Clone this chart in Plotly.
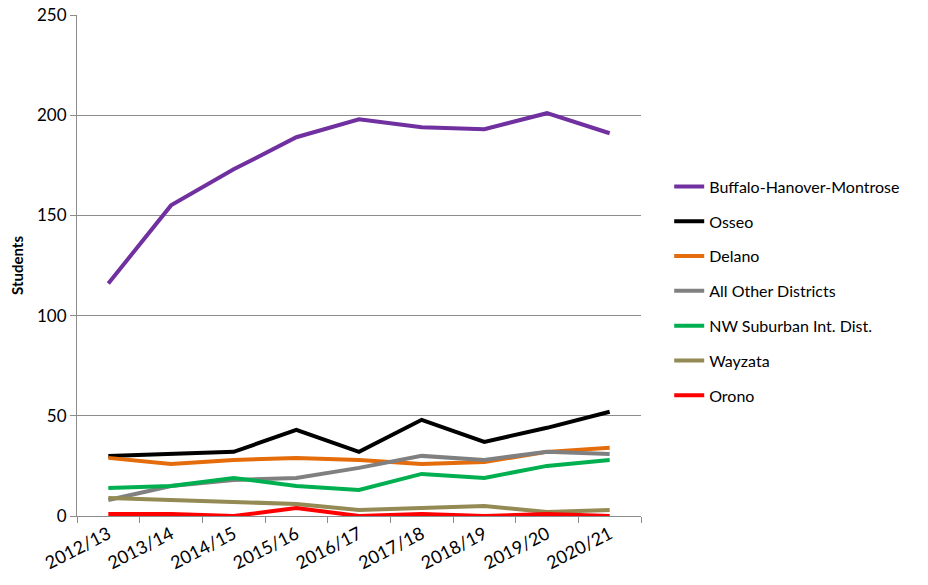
import plotly.graph_objects as go

years = ["2012/13", "2013/14", "2014/15", "2015/16", "2016/17", "2017/18", "2018/19", "2019/20", "2020/21"]

buffalo = [116, 155, 173, 189, 198, 194, 193, 201, 191]
osseo = [30, 31, 32, 43, 32, 48, 37, 44, 52]
delano = [29, 26, 28, 29, 28, 26, 27, 32, 34]
all_other = [8, 15, 18, 19, 24, 30, 28, 32, 31]
nw_suburban = [14, 15, 19, 15, 13, 21, 19, 25, 28]
wayzata = [9, 8, 7, 6, 3, 4, 5, 2, 3]
orono = [1, 1, 0, 4, 0, 1, 0, 1, 0]

series = [
    ("Buffalo-Hanover-Montrose", buffalo, "#7030A0"),
    ("Osseo", osseo, "#000000"),
    ("Delano", delano, "#E46C0A"),
    ("All Other Districts", all_other, "#808080"),
    ("NW Suburban Int. Dist.", nw_suburban, "#00B050"),
    ("Wayzata", wayzata, "#948A54"),
    ("Orono", orono, "#FF0000"),
]

fig = go.Figure()
for name, vals, color in series:
    fig.add_trace(go.Scatter(
        x=years, y=vals, name=name, mode="lines",
        line=dict(color=color, width=4),
        legendgroup=name,
    ))

font_family = "Lato, 'Open Sans', sans-serif"
fig.update_layout(
    width=928, height=585,
    margin=dict(l=77, r=287, t=15, b=69, autoexpand=False),
    plot_bgcolor="white", paper_bgcolor="white",
    font=dict(family=font_family, size=16, color="#000000"),
    legend=dict(
        x=1.05, y=0.449, xanchor="left", yanchor="middle",
        font=dict(size=16), tracegroupgap=11,
        bgcolor="rgba(0,0,0,0)",
    ),
    xaxis=dict(
        type="category", tickangle=-27, range=[-0.5, 8.5], automargin=False,
        showline=True, linecolor="#8c8c8c", linewidth=1,
        ticks="outside", tickson="boundaries", ticklen=6, tickcolor="#8c8c8c",
        showgrid=False, tickfont=dict(size=18),
    ),
    yaxis=dict(
        range=[0, 250], tickvals=[0, 50, 100, 150, 200, 250], automargin=False,
        showline=True, linecolor="#8c8c8c", linewidth=1,
        ticks="outside", ticklen=6, tickcolor="#8c8c8c",
        showgrid=True, gridcolor="#8c8c8c", gridwidth=1,
        zeroline=False, tickfont=dict(size=17),
        title=dict(text="<b>Students</b>", font=dict(size=15), standoff=9),
    ),
)

fig.write_html(
    "out.html",
    config={"displayModeBar": False},
    post_script="document.body.style.margin='0';",
)
